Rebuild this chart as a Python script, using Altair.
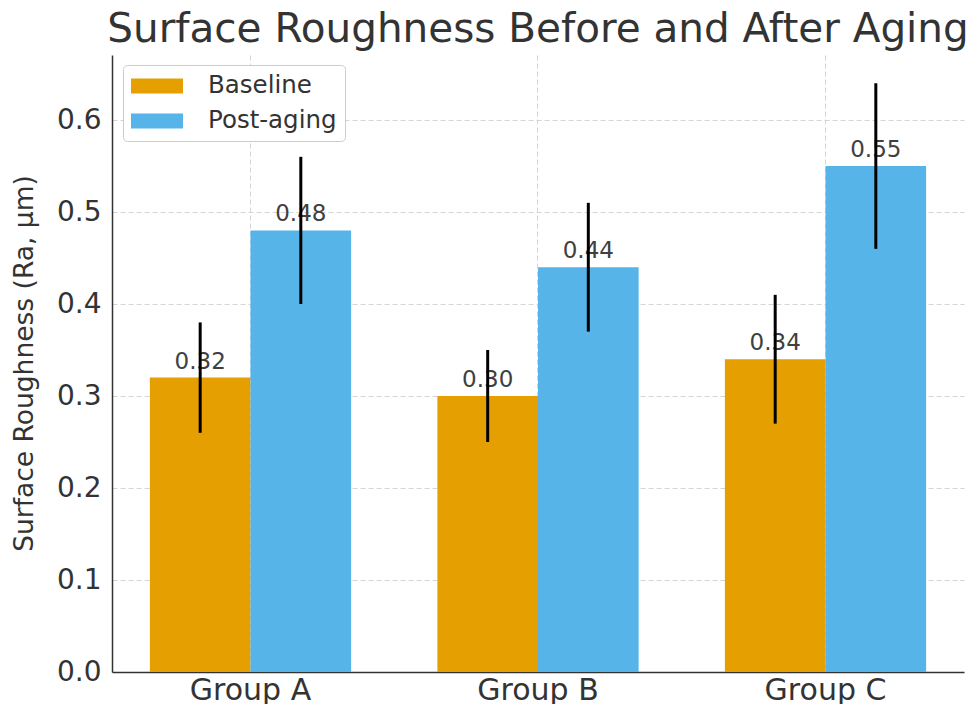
import altair as alt
import pandas as pd

groups = ["Group A", "Group B", "Group C"]
series = ["Baseline", "Post-aging"]
baseline = [0.32, 0.30, 0.34]
baseline_err = [0.06, 0.05, 0.07]
post = [0.48, 0.44, 0.55]
post_err = [0.08, 0.07, 0.09]
colors = ["#E69F00", "#56B4E9"]

rows = []
for g, v, e in zip(groups, baseline, baseline_err):
    rows.append({"group": g, "series": series[0], "value": v, "err": e})
for g, v, e in zip(groups, post, post_err):
    rows.append({"group": g, "series": series[1], "value": v, "err": e})
df = pd.DataFrame(rows)
df["lo"] = df["value"] - df["err"]
df["hi"] = df["value"] + df["err"]
df["label"] = df["value"].map(lambda v: f"{v:.2f}")

FONT = "DejaVu Sans"
TXT = "#333333"

x_enc = alt.X(
    "group:N",
    sort=groups,
    scale=alt.Scale(paddingInner=0.3, paddingOuter=0.1317),
    axis=alt.Axis(
        title=None,
        labelAngle=0,
        labelFontSize=30,
        labelColor=TXT,
        labelFont=FONT,
        labelPadding=3,
        ticks=False,
        grid=True,
        gridDash=[5, 3],
        gridColor="#d4d4d4",
        bandPosition=0.5,
        domainColor="#333333",
        domainWidth=1.5,
    ),
)
xoff = alt.XOffset("series:N", sort=series,
                   scale=alt.Scale(paddingInner=0, paddingOuter=0))

y_scale = alt.Scale(domain=[0, 0.6707], nice=False, zero=True)

bars = alt.Chart(df).mark_bar().encode(
    x=x_enc,
    xOffset=xoff,
    y=alt.Y(
        "value:Q",
        scale=y_scale,
        axis=alt.Axis(
            title="Surface Roughness (Ra, µm)",
            titleFontSize=26.5,
            titleFont=FONT,
            titleFontWeight="normal",
            titleColor=TXT,
            titleX=-88,
            titleY=308,
            titleAngle=-90,
            titleAlign="center",
            titleBaseline="middle",
            values=[0, 0.1, 0.2, 0.3, 0.4, 0.5, 0.6],
            format=".1f",
            labelFontSize=28,
            labelFont=FONT,
            labelColor=TXT,
            labelPadding=11,
            ticks=False,
            grid=True,
            gridDash=[5, 3],
            gridColor="#d4d4d4",
            domainColor="#333333",
            domainWidth=1.5,
        ),
    ),
    color=alt.Color(
        "series:N",
        sort=series,
        scale=alt.Scale(domain=series, range=colors),
        legend=alt.Legend(
            title=None,
            orient="none",
            legendX=11,
            legendY=10,
            symbolType="M-2,-0.577H2V0.577H-2Z",
            symbolSize=676,
            symbolOffset=13,
            symbolStrokeWidth=0,
            labelFontSize=24.5,
            labelFont=FONT,
            labelColor=TXT,
            labelOffset=38,
            rowPadding=10,
            padding=8,
            strokeColor="#cccccc",
            fillColor="white",
            cornerRadius=4,
        ),
    ),
)

labels = alt.Chart(df).mark_text(
    baseline="bottom", dy=-4, fontSize=23, font=FONT, color="#404040"
).encode(
    x=alt.X("group:N", sort=groups),
    xOffset=xoff,
    y=alt.Y("value:Q", scale=y_scale),
    text="label:N",
)

errs = alt.Chart(df).mark_rule(color="black", strokeWidth=3).encode(
    x=alt.X("group:N", sort=groups),
    xOffset=xoff,
    y=alt.Y("lo:Q", scale=y_scale),
    y2="hi:Q",
)

chart = alt.layer(bars, labels, errs).properties(
    width=852,
    height=617,
    title=alt.TitleParams(
        "Surface Roughness Before and After Aging",
        fontSize=40.5,
        font=FONT,
        fontWeight="normal",
        color=TXT,
        anchor="middle",
        baseline="alphabetic",
        offset=12,
        dy=39,
    ),
    autosize=alt.AutoSizeParams(type="none"),
    padding={"left": 112, "top": 55, "right": 9, "bottom": 32},
).configure_view(stroke=None)

chart.save("out.html", embed_options={"renderer": "svg", "actions": False})
